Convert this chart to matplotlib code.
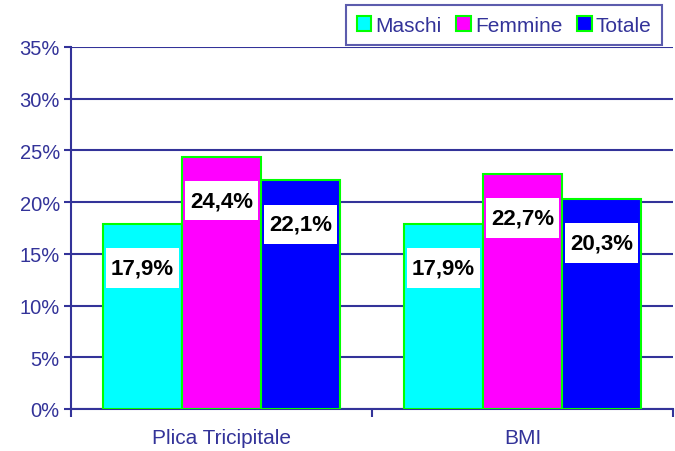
import numpy as np
import matplotlib
matplotlib.use("Agg")
import matplotlib.pyplot as plt
from matplotlib.path import Path

# data
categories = ["Plica Tricipitale", "BMI"]
series = ["Maschi", "Femmine", "Totale"]
maschi = [17.9, 17.9]
femmine = [24.4, 22.7]
totale = [22.1, 20.3]
yticks = [0, 5, 10, 15, 20, 25, 30, 35]

colors = ["#00FFFF", "#FF00FF", "#0000FF"]
navy = "#333399"

plt.rcParams["font.family"] = ["Liberation Sans", "DejaVu Sans"]


# white label box: small horizontal pad, tall vertical pad
def labelbox(x0, y0, width, height, mutation_size):
    px = 0.22 * mutation_size
    py = 0.42 * mutation_size
    x0, y0 = x0 - px, y0 - py
    x1, y1 = x0 + width + 2 * px, y0 + height + 2 * py
    return Path([(x0, y0), (x1, y0), (x1, y1), (x0, y1), (x0, y0)], closed=True)


fig = plt.figure(figsize=(6.75, 4.52), dpi=100)
ax = fig.add_axes([0.105, 0.093, 0.892, 0.801])

x = np.arange(len(categories))
w = 0.262
for i, (name, vals) in enumerate(zip(series, [maschi, femmine, totale])):
    pos = x + (i - 1) * w
    ax.bar(pos, vals, w, color=colors[i], edgecolor="#00FF00", linewidth=1.5,
           label=name, zorder=3)
    for p, v in zip(pos, vals):
        ax.annotate(f"{v:.1f}%".replace(".", ","), (p, v), xytext=(0, -44),
                    textcoords="offset pixels",
                    ha="center", va="center", fontsize=16, fontweight="bold",
                    color="black", zorder=5,
                    bbox=dict(boxstyle=labelbox, fc="white", ec="none"))

ax.set_xlim(-0.5, 1.5)
ax.set_ylim(0, 35)
ax.set_yticks(yticks)
ax.set_yticklabels([f"{t}%" for t in yticks])
ax.yaxis.grid(True, color=navy, linewidth=1.5, zorder=0)
ax.set_xticks([-0.5, 0.5, 1.5], minor=False)
ax.set_xticklabels([])
ax.set_xticks(x, minor=True)
ax.set_xticklabels(categories, minor=True)
ax.tick_params(axis="x", which="minor", length=0, pad=14, labelsize=15, labelcolor=navy)
ax.tick_params(axis="x", which="major", length=6, width=1.5, color=navy)
ax.tick_params(axis="y", length=5, width=1.5, color=navy, labelsize=14.5, labelcolor=navy, pad=3)

for s in ["top", "right"]:
    ax.spines[s].set_visible(False)
for s in ["left", "bottom"]:
    ax.spines[s].set_color(navy)
    ax.spines[s].set_linewidth(1.5)

leg = fig.legend(loc="upper right", bbox_to_anchor=(0.987, 0.995), ncol=3,
                 fontsize=15, frameon=True, fancybox=False, handlelength=0.7,
                 handleheight=0.7, handletextpad=0.2, columnspacing=0.7,
                 borderpad=0.5, borderaxespad=0.2)
leg.get_frame().set_edgecolor(navy)
leg.get_frame().set_linewidth(1.5)
for t in leg.get_texts():
    t.set_color(navy)

fig.savefig("out.png", dpi=100)
